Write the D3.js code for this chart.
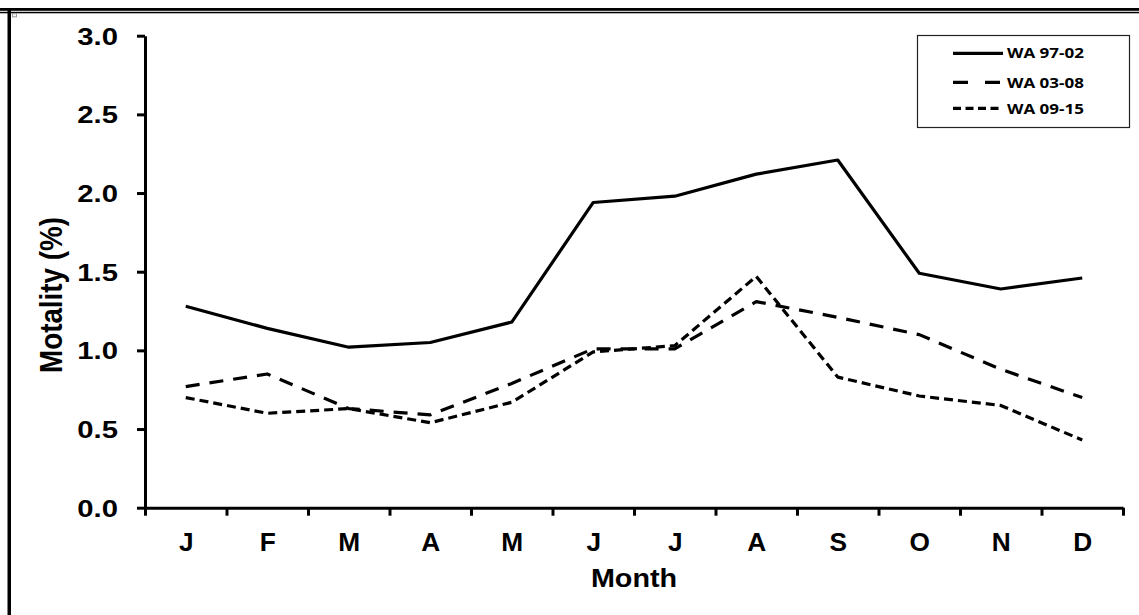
<!DOCTYPE html>
<html>
<head>
<meta charset="utf-8">
<script src="https://cdn.jsdelivr.net/npm/d3@7"></script>
<style>
  html, body { margin: 0; padding: 0; background: #fff; }
  svg { display: block; }
  text { font-family: "Liberation Sans", Arial, sans-serif; font-weight: bold; fill: #000; }
</style>
</head>
<body>
<svg id="chart" width="1139" height="615"></svg>
<script>
// ---- data ----
const months = ["J","F","M","A","M","J","J","A","S","O","N","D"];
const wa9702 = [1.28,1.14,1.02,1.05,1.18,1.94,1.98,2.12,2.21,1.49,1.39,1.46];
const wa0308 = [0.77,0.85,0.63,0.59,0.79,1.01,1.01,1.31,1.21,1.10,0.88,0.70];
const wa0915 = [0.70,0.60,0.63,0.54,0.67,0.99,1.03,1.47,0.83,0.71,0.65,0.43];
const seriesNames = ["WA 97-02","WA 03-08","WA 09-15"];
const yTicks = [0,0.5,1.0,1.5,2.0,2.5,3.0];

const series = [
  {name: seriesNames[0], values: wa9702, dash: null},
  {name: seriesNames[1], values: wa0308, dash: "14,10"},
  {name: seriesNames[2], values: wa0915, dash: "9,5"}
];

const svg = d3.select("#chart");

// outer frame
svg.append("rect").attr("x",0).attr("y",8).attr("width",1139).attr("height",2.8).attr("fill","#000");
svg.append("rect").attr("x",0).attr("y",11.8).attr("width",1139).attr("height",1.5).attr("fill","#000");
svg.append("rect").attr("x",7.5).attr("y",8).attr("width",3.5).attr("height",607).attr("fill","#000");
svg.append("rect").attr("x",12.5).attr("y",13.8).attr("width",4).attr("height",3)
   .attr("fill","#fff").attr("stroke","#999").attr("stroke-width",1);

// scales
const x = d3.scaleLinear().domain([0, 12]).range([145, 1123]);
const y = d3.scaleLinear().domain([0, 3]).range([507.7, 35.7]);

// y axis
const gy = svg.append("g").attr("transform", "translate(145,0)")
  .call(d3.axisLeft(y).tickValues(yTicks).tickFormat(d3.format(".1f")).tickSize(8).tickSizeOuter(0));
gy.select(".domain").attr("stroke","#000").attr("stroke-width",3);
gy.selectAll(".tick line").attr("stroke","#000").attr("stroke-width",3);
gy.selectAll(".tick text")
  .attr("x", null).attr("dy", null)
  .attr("transform", "translate(-27,8.5) scale(1.22,1)")
  .attr("text-anchor","end")
  .style("font-size","24px");

// x axis (ticks at month boundaries)
const gx = svg.append("g").attr("transform", "translate(0,507.7)")
  .call(d3.axisBottom(x).tickValues(d3.range(13)).tickFormat("").tickSize(8).tickSizeOuter(0));
gx.select(".domain").attr("stroke","#000").attr("stroke-width",3);
gx.selectAll(".tick line").attr("stroke","#000").attr("stroke-width",3);

// x labels (at month centres)
const gxl = svg.append("g").attr("transform", "translate(0,507.7)")
  .call(d3.axisBottom(x).tickValues(d3.range(12).map(i => i + 0.5))
        .tickFormat(d => months[Math.round(d - 0.5)]).tickSize(0).tickSizeOuter(0));
gxl.select(".domain").remove();
gxl.selectAll(".tick text")
  .attr("y", null).attr("dy", null)
  .attr("transform", "translate(0,43) scale(1.05,1)")
  .style("font-size","25px");

// axis titles
svg.append("text").attr("transform","translate(634,587) scale(1.15,1)")
  .attr("text-anchor","middle").style("font-size","25px").text("Month");
svg.append("text").attr("transform","translate(61.5,295) rotate(-90) scale(1.07,1.2)")
  .attr("text-anchor","middle").style("font-size","26px").text("Motality (%)");

// lines
const line = d3.line().x((d,i) => x(i + 0.5)).y(d => y(d));
svg.append("g").selectAll("path").data(series).join("path")
  .attr("d", d => line(d.values))
  .attr("fill","none").attr("stroke","#000").attr("stroke-width",3.2)
  .attr("stroke-linejoin","round")
  .attr("stroke-dasharray", d => d.dash);

// legend
const lg = svg.append("g");
lg.append("rect").attr("x",917.5).attr("y",35.5).attr("width",212).attr("height",92)
  .attr("fill","#fff").attr("stroke","#222").attr("stroke-width",1.2);
const lineYs = [53.3, 82.3, 108.3];
const textYs = [57.5, 88.3, 114.3];
const legDash = [null, "15,17", "8,4.5"];
series.forEach((s, i) => {
  lg.append("line").attr("x1",953).attr("x2",1003).attr("y1",lineYs[i]).attr("y2",lineYs[i])
    .attr("stroke","#000").attr("stroke-width",3.2).attr("stroke-dasharray", legDash[i]);
  lg.append("text").attr("x",1007).attr("y",textYs[i])
    .attr("textLength",77).attr("lengthAdjust","spacingAndGlyphs")
    .style("font-size","13.5px").style("font-family","'Open Sans', 'Liberation Sans', sans-serif")
    .text(s.name);
});
</script>
</body>
</html>
